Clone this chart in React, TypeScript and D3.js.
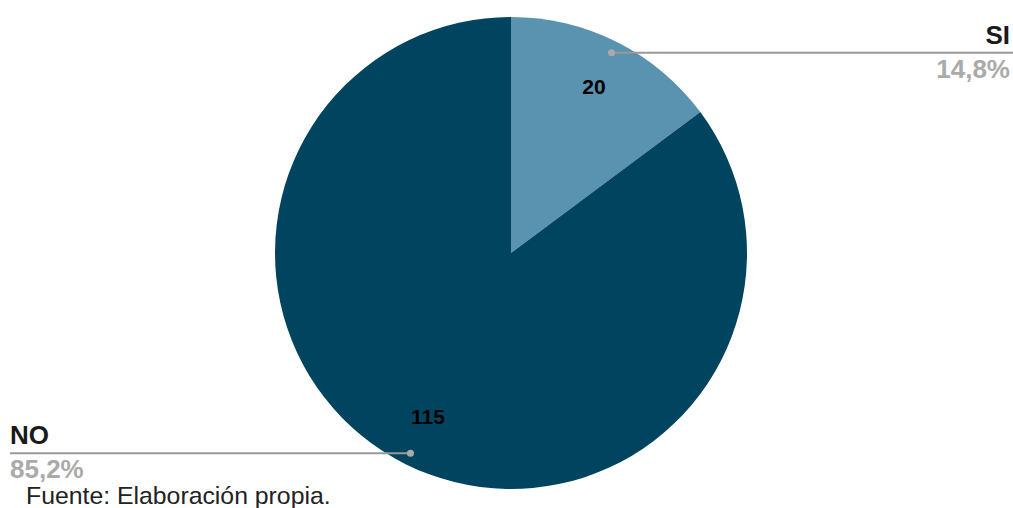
import React from "react";
import * as d3 from "d3";

const categories = ["SI", "NO"];
const values = [20, 115];
const percentLabels = ["14,8%", "85,2%"];
const colors = ["#5a93b0", "#00445f"];
const source = "Fuente: Elaboración propia.";

export default function App() {
  const W = 1013, H = 508;
  const cx = 511, cy = 253, R = 236;
  const pie = d3.pie<number>().sort(null).value((d) => d);
  const arcs = pie(values);
  const arc = d3.arc<d3.PieArcDatum<number>>().innerRadius(0).outerRadius(R);
  const labelArc = d3.arc<d3.PieArcDatum<number>>().innerRadius(185).outerRadius(185);
  const dotArc = d3.arc<d3.PieArcDatum<number>>().innerRadius(224).outerRadius(224);
  const font = "'Liberation Sans', Arial, sans-serif";

  return (
    <svg width={W} height={H} style={{ position: "absolute", left: 0, top: 0 }} fontFamily={font}>
      <rect width={W} height={H} fill="#fff" />
      <g transform={`translate(${cx},${cy})`}>
        {arcs.map((a, i) => (
          <path key={i} d={arc(a) || ""} fill={colors[i]} />
        ))}
        {arcs.map((a, i) => {
          const [x, y] = labelArc.centroid(a);
          return (
            <text key={"v" + i} x={x} y={y + 6} textAnchor="middle"
              fontSize={21} fontWeight="bold" fill="#000">
              {values[i]}
            </text>
          );
        })}
      </g>
      {arcs.map((a, i) => {
        const [dx, dy] = dotArc.centroid(a);
        const px = cx + dx, py = cy + dy;
        const right = px > cx;
        const endX = right ? 1010 : 10;
        return (
          <g key={"l" + i}>
            <line x1={px} y1={py} x2={right ? 1013 : 10} y2={py} stroke="#999" strokeWidth={2} />
            <circle cx={px} cy={py} r={3.5} fill="#aaa" />
            <text x={endX} y={py - 9} textAnchor={right ? "end" : "start"} fontSize={26}
              fontWeight="bold" fill="#1a1a1a">
              {categories[i]}
            </text>
            <text x={endX} y={py + 25} textAnchor={right ? "end" : "start"} fontSize={26}
              fontWeight="bold" fill="#aaaaaa">
              {percentLabels[i]}
            </text>
          </g>
        );
      })}
      <text x={26} y={504} fontSize={24.8} fill="#222">{source}</text>
    </svg>
  );
}
